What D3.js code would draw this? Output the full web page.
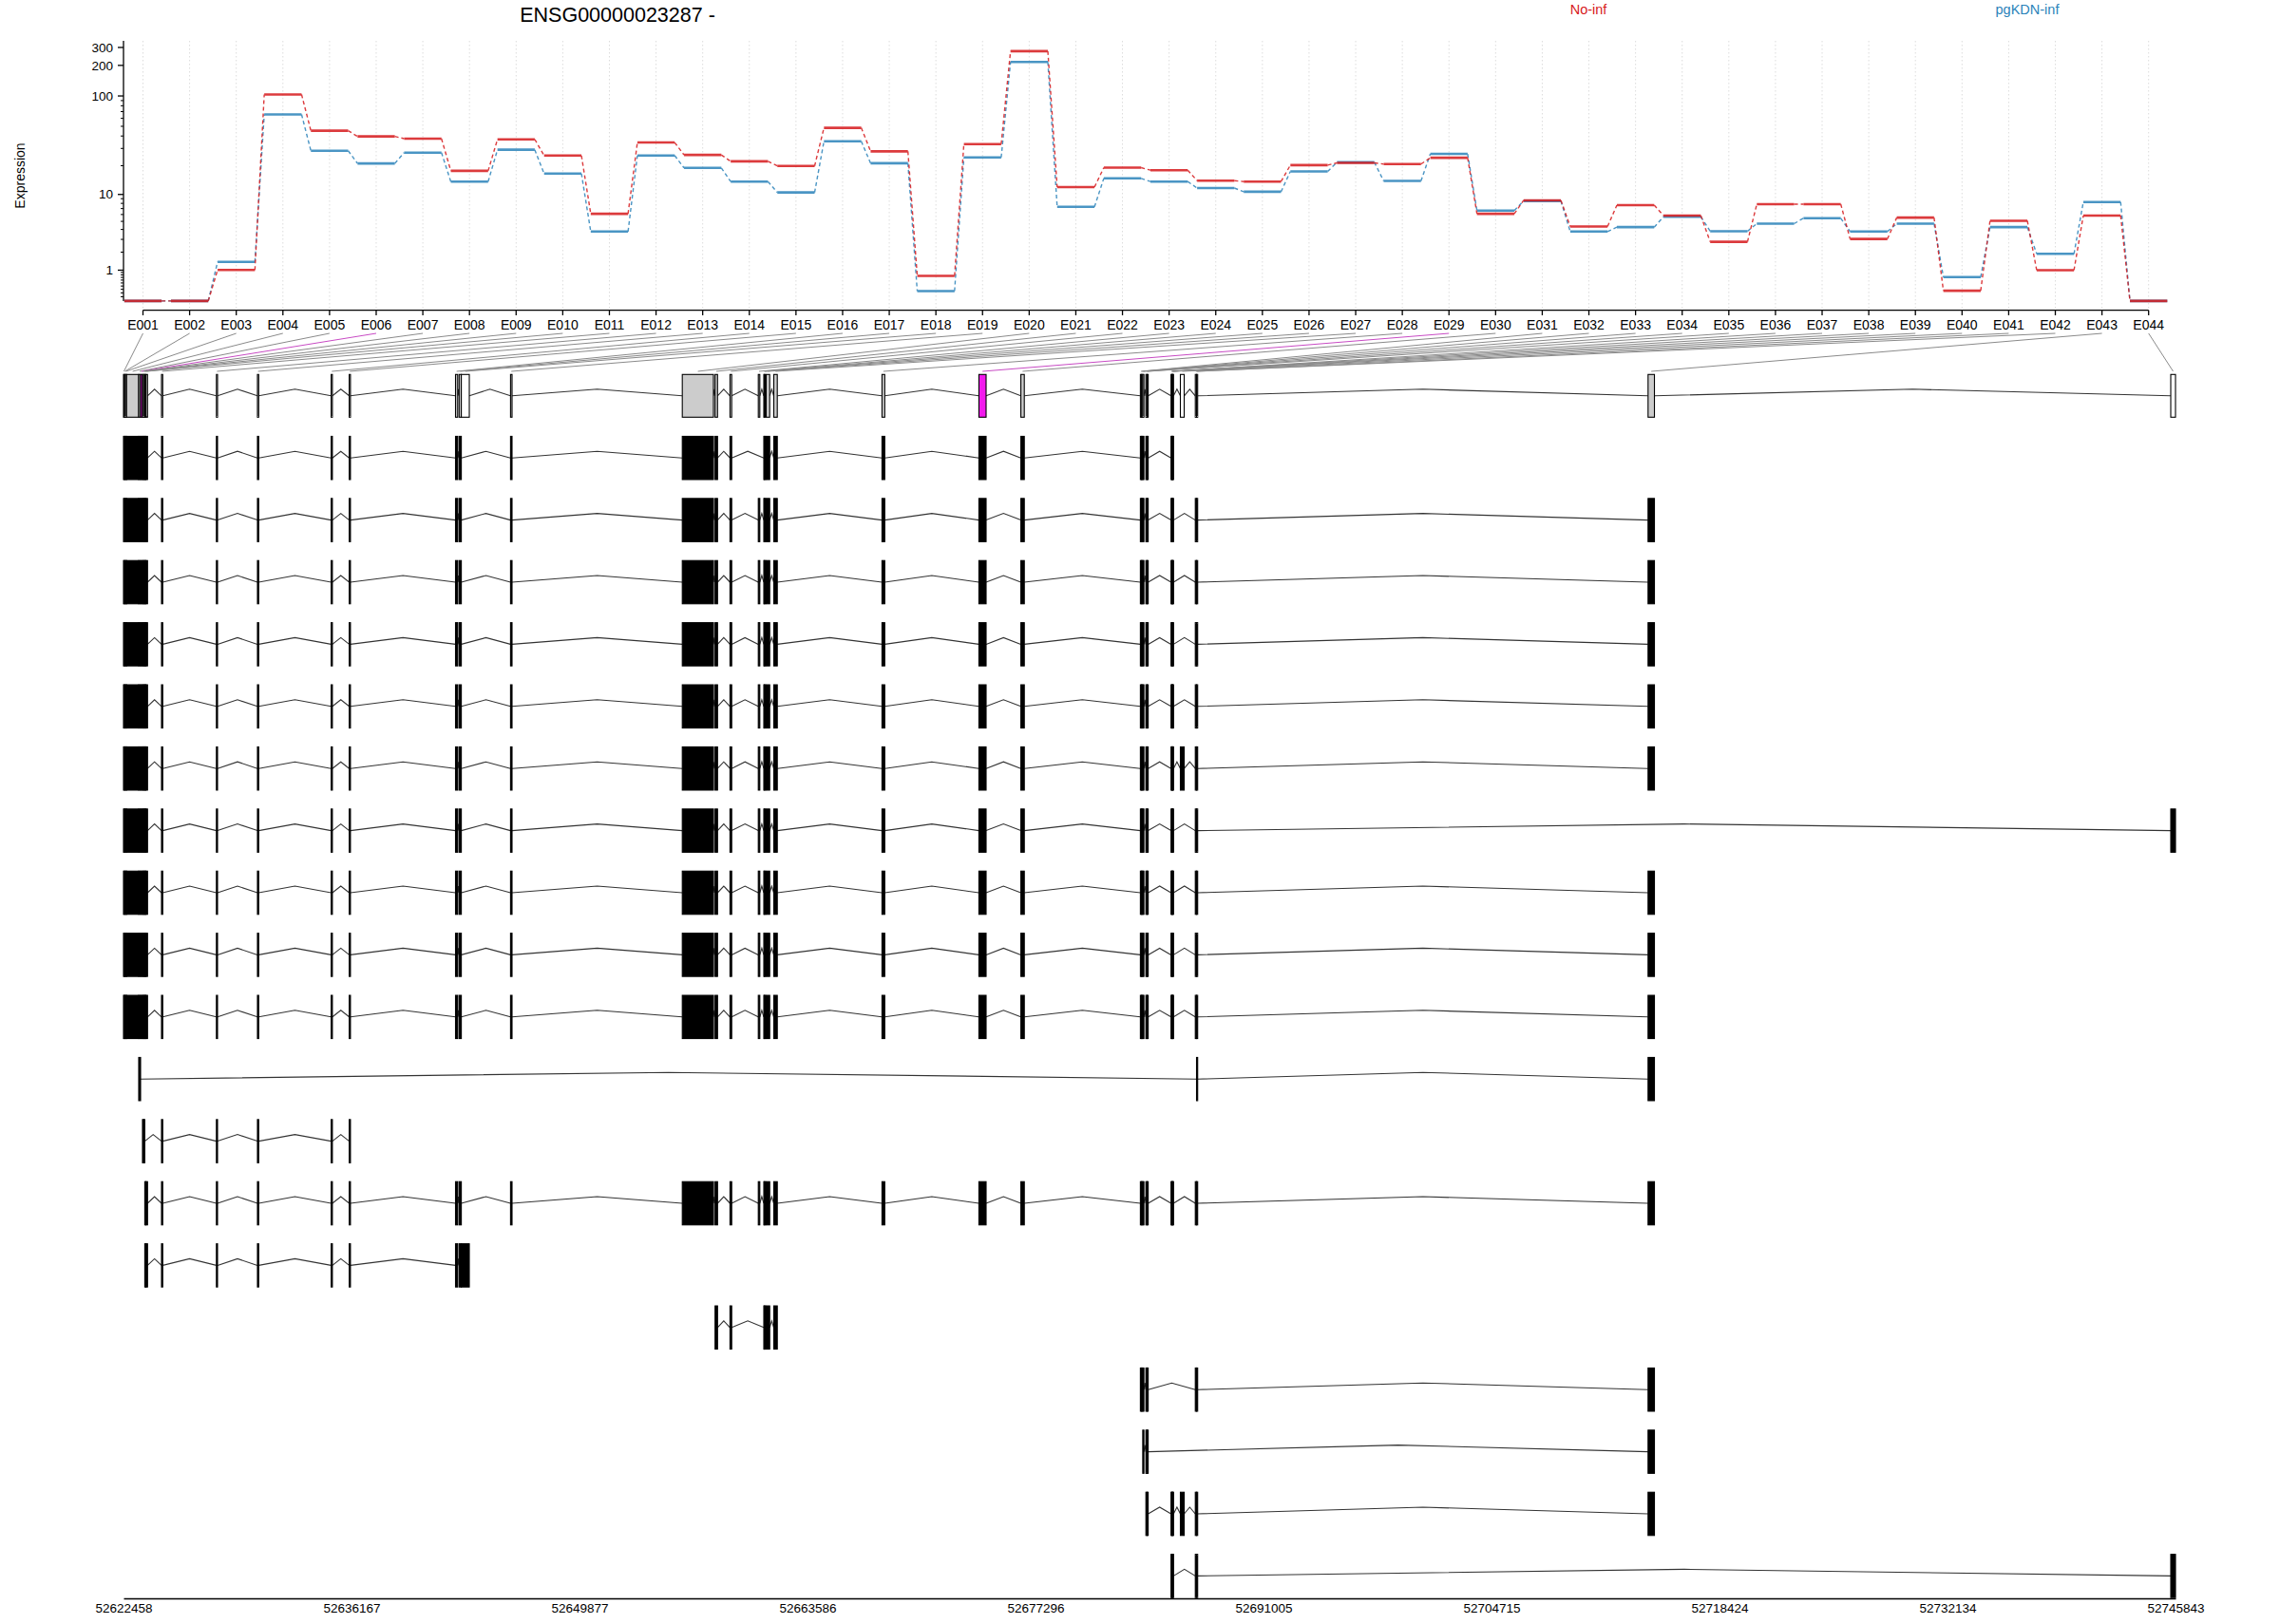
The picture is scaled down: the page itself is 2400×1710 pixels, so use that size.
<!DOCTYPE html>
<html><head><meta charset="utf-8">
<script src="https://cdn.jsdelivr.net/npm/d3@7"></script>
<style>
body{margin:0;background:#fff}
svg{display:block}
text{font-family:"Liberation Sans",Arial,Helvetica,sans-serif;fill:#000}
</style>
</head><body>
<svg id="chart" width="2400" height="1710"></svg>
<script>
// ---------------- data ----------------
const geneTitle = "ENSG00000023287 -";
const conditions = ["No-inf", "pgKDN-inf"];
const exonIds = ["E001","E002","E003","E004","E005","E006","E007","E008","E009","E010",
  "E011","E012","E013","E014","E015","E016","E017","E018","E019","E020",
  "E021","E022","E023","E024","E025","E026","E027","E028","E029","E030",
  "E031","E032","E033","E034","E035","E036","E037","E038","E039","E040",
  "E041","E042","E043","E044"];
const noInf = [0, 0, 1.01, 103.5, 45.2, 39.6, 37.6, 17.7, 37.0, 25.4,
  6.12, 34.4, 25.8, 22.2, 19.9, 48.3, 28.0, 0.76, 33.2, 276,
  12.0, 19.1, 18.0, 14.0, 13.7, 20.3, 21.4, 20.8, 24.1, 6.12,
  8.63, 4.35, 7.64, 5.83, 2.79, 7.83, 7.83, 3.04, 5.53, 0.26,
  5.08, 1.00, 5.83, 0];
const pgKDNinf = [0, 0, 1.41, 65.6, 28.4, 21.1, 27.2, 13.7, 29.1, 16.6,
  3.77, 25.4, 19.0, 13.7, 10.5, 35.4, 21.2, 0.25, 24.3, 216,
  7.33, 14.8, 13.7, 11.7, 10.7, 17.5, 21.7, 13.9, 26.4, 6.65,
  8.5, 3.77, 4.27, 5.67, 3.81, 4.70, 5.44, 3.77, 4.70, 0.71,
  4.27, 1.89, 8.28, 0];
const exonStart = [52622458, 52622509, 52622572, 52622641, 52623372, 52623486, 52623600, 52623669, 52623738, 52623806,
  52624743, 52628045, 52630512, 52634945, 52636030, 52642423, 52642640, 52642771, 52645730, 52656058,
  52658029, 52658925, 52660628, 52660959, 52661005, 52661102, 52661559, 52668065, 52673892, 52676416,
  52683602, 52683671, 52683745, 52683934, 52684003, 52685447, 52685487, 52685522, 52685556, 52686007,
  52686905, 52686979, 52714129, 52745558];
const exonEnd = [52622509, 52622572, 52622641, 52623372, 52623486, 52623600, 52623669, 52623738, 52623806, 52623903,
  52624817, 52628113, 52630587, 52635019, 52636105, 52642554, 52642771, 52643251, 52645821, 52657931,
  52658177, 52659028, 52660719, 52661005, 52661056, 52661313, 52661770, 52668231, 52674326, 52676622,
  52683671, 52683745, 52683814, 52684003, 52684071, 52685487, 52685522, 52685556, 52685596, 52686236,
  52686979, 52687047, 52714512, 52745843];
// t = tested, n = not tested, s = significant
const exonStatus = ["n","n","t","t","t","s","t","t","t","t",
  "t","t","t","t","t","t","t","n","t","t",
  "t","t","t","t","t","t","t","t","s","t",
  "t","t","t","t","t","t","t","t","t","n",
  "t","t","t","n"];
const txStandard = [1,2,3,4,5,6,7,8,9,10,11,12,13,14,15,16,17,19,20,21,22,23,24,25,26,27,28,29,30,31,32,33,34,35,36,37,38,39,41,42,43];
const txShort = [1,2,3,4,5,6,7,8,9,10,11,12,13,14,15,16,17,19,20,21,22,24,25,26,27,28,29,30,31,32,33,34,35,36,37,38,39];
const txWith40 = [1,2,3,4,5,6,7,8,9,10,11,12,13,14,15,16,17,19,20,21,22,23,24,25,26,27,28,29,30,31,32,33,34,35,36,37,38,39,40,41,42,43];
const txTo44 = [1,2,3,4,5,6,7,8,9,10,11,12,13,14,15,16,17,19,20,21,22,23,24,25,26,27,28,29,30,31,32,33,34,35,36,37,38,39,41,42,44];
const txFrom9 = [9,10,11,12,13,14,15,16,17,19,20,21,22,23,24,25,26,27,28,29,30,31,32,33,34,35,36,37,38,39,41,42,43];
const transcripts = [
  txShort, txStandard, txStandard, txStandard, txStandard, txWith40, txTo44,
  txStandard, txStandard, txStandard,
  [5, 42, 43],
  [7, 8, 11, 12, 13, 14, 15],
  txFrom9,
  [9, 10, 11, 12, 13, 14, 15, 16, 17, 18],
  [21, 22, 24, 25, 26, 27],
  [31, 32, 33, 34, 35, 41, 42, 43],
  [33, 34, 35, 43],
  [34, 35, 36, 37, 38, 39, 40, 41, 42, 43],
  [36, 37, 38, 39, 41, 42, 44]
];
const genomicTicks = [52622458, 52636167, 52649877, 52663586, 52677296, 52691005, 52704715, 52718424, 52732134, 52745843];
const yMajorTicks = [1, 10, 100, 200, 300];
const yMinorTicks = [0.1,0.2,0.3,0.4,0.5,0.6,0.7,0.8,0.9,2,3,4,5,6,7,8,9,20,30,40,50,60,70,80,90];

// ---------------- layout ----------------
const colRed = "#D7191C", colBlue = "#2B83BA";
const svg = d3.select("#chart");
const FONT = 14;

const xIdx = d3.scaleLinear().domain([1, 44]).range([150.5, 2261.7]);
const yExp = d3.scaleSymlog().constant(1).domain([0, 300]).range([316.9, 49.96]);
const xGen = d3.scaleLinear().domain([52622458, 52745843]).range([130, 2290]);

// title & legend
svg.append("text").attr("x", 650).attr("y", 22.5).attr("text-anchor", "middle")
  .style("font-size", "21.5px").text(geneTitle);
svg.append("text").attr("x", 1672).attr("y", 14.5).attr("text-anchor", "middle")
  .style("font-size", "14.5px").style("fill", colRed).text(conditions[0]);
svg.append("text").attr("x", 2134).attr("y", 14.5).attr("text-anchor", "middle")
  .style("font-size", "14.5px").style("fill", colBlue).text(conditions[1]);

// y label
svg.append("text").attr("transform", "translate(26,185) rotate(-90)")
  .attr("text-anchor", "middle").style("font-size", FONT + "px").text("Expression");

// vertical grid
const grid = svg.append("g");
exonIds.forEach((id, i) => {
  grid.append("line").attr("x1", xIdx(i + 1)).attr("x2", xIdx(i + 1))
    .attr("y1", 43).attr("y2", 326)
    .attr("stroke", "#dcdcdc").attr("stroke-width", 1).attr("stroke-dasharray", "1.5,2.5");
});

// y axis
const yAx = svg.append("g");
yAx.append("line").attr("x1", 130).attr("x2", 130).attr("y1", 43).attr("y2", yExp(0))
  .attr("stroke", "#000").attr("stroke-width", 1.3);
yMajorTicks.forEach(t => {
  yAx.append("line").attr("x1", 124).attr("x2", 130).attr("y1", yExp(t)).attr("y2", yExp(t))
    .attr("stroke", "#000").attr("stroke-width", 1.3);
  yAx.append("text").attr("x", 119).attr("y", yExp(t)).attr("dy", "0.35em")
    .attr("text-anchor", "end").style("font-size", "13.5px").text(t);
});
yMinorTicks.forEach(t => {
  yAx.append("line").attr("x1", 127).attr("x2", 130).attr("y1", yExp(t)).attr("y2", yExp(t))
    .attr("stroke", "#000").attr("stroke-width", 1);
});

// x axis (exons)
const xAx = svg.append("g");
xAx.append("line").attr("x1", xIdx(1)).attr("x2", xIdx(44)).attr("y1", 326.7).attr("y2", 326.7)
  .attr("stroke", "#000").attr("stroke-width", 1.3);
exonIds.forEach((id, i) => {
  xAx.append("line").attr("x1", xIdx(i + 1)).attr("x2", xIdx(i + 1)).attr("y1", 326.7).attr("y2", 332)
    .attr("stroke", "#000").attr("stroke-width", 1.3);
  xAx.append("text").attr("x", xIdx(i + 1)).attr("y", 347.3).attr("text-anchor", "middle")
    .style("font-size", FONT + "px").text(id);
});

// expression lines
function drawSeries(vals, col) {
  const g = svg.append("g").attr("opacity", 0.85);
  vals.forEach((v, i) => {
    const idx = i + 1;
    g.append("line").attr("x1", xIdx(idx - 0.4)).attr("x2", xIdx(idx + 0.4))
      .attr("y1", yExp(v)).attr("y2", yExp(v))
      .attr("stroke", col).attr("stroke-width", 2.6);
    if (i < vals.length - 1) {
      g.append("line").attr("x1", xIdx(idx + 0.4)).attr("x2", xIdx(idx + 0.6))
        .attr("y1", yExp(v)).attr("y2", yExp(vals[i + 1]))
        .attr("stroke", col).attr("stroke-width", 1.4).attr("stroke-dasharray", "4,3");
    }
  });
}
drawSeries(pgKDNinf, colBlue);
drawSeries(noInf, colRed);

// connector lines from labels to exon model
const conn = svg.append("g");
exonIds.forEach((id, i) => {
  const mid = (exonStart[i] + exonEnd[i]) / 2;
  conn.append("line").attr("x1", xIdx(i + 1)).attr("y1", 351)
    .attr("x2", xGen(mid)).attr("y2", 391)
    .attr("stroke", exonStatus[i] === "s" ? "#C84BC4" : "#8a8a8a").attr("stroke-width", 1);
});

// gene model helper
function drawModel(parts, cy, h, fillFn) {
  const g = svg.append("g");
  const sorted = parts.slice().sort((a, b) => exonStart[a - 1] - exonStart[b - 1]);
  // introns
  for (let k = 0; k < sorted.length - 1; k++) {
    const e1 = exonEnd[sorted[k] - 1], s2 = exonStart[sorted[k + 1] - 1];
    if (s2 > e1) {
      const x1 = xGen(e1), x2 = xGen(s2);
      g.append("polyline")
        .attr("points", `${x1},${cy} ${(x1 + x2) / 2},${cy - 7} ${x2},${cy}`)
        .attr("fill", "none").attr("stroke", "#333").attr("stroke-width", 1.1);
    }
  }
  // exons
  sorted.forEach(p => {
    const x1 = xGen(exonStart[p - 1]), x2 = xGen(exonEnd[p - 1]);
    g.append("rect").attr("x", x1).attr("y", cy - h / 2)
      .attr("width", Math.max(x2 - x1, 0.6)).attr("height", h)
      .attr("fill", fillFn(p)).attr("stroke", "#000").attr("stroke-width", 1.1);
  });
}

// top exon-part model
const allParts = exonIds.map((d, i) => i + 1);
drawModel(allParts, 416.8, 45, p => {
  const s = exonStatus[p - 1];
  return s === "s" ? "#F219ED" : (s === "n" ? "#ffffff" : "#CCCCCC");
});

// transcripts
transcripts.forEach((tx, k) => {
  drawModel(tx, 482.2 + k * 65.4, 45.5, () => "#000");
});

// genomic axis
const gAxis = d3.axisBottom(xGen).tickValues(genomicTicks).tickSize(0).tickSizeOuter(0)
  .tickPadding(5).tickFormat(d3.format("d"));
const ga = svg.append("g").attr("transform", "translate(0,1683)").call(gAxis);
ga.select(".domain").attr("stroke", "#000").attr("stroke-width", 1.6);
ga.selectAll("text").style("font-size", "13.5px")
  .style("font-family", "'Liberation Sans',Arial,sans-serif").attr("fill", "#000");
</script>
</body></html>
